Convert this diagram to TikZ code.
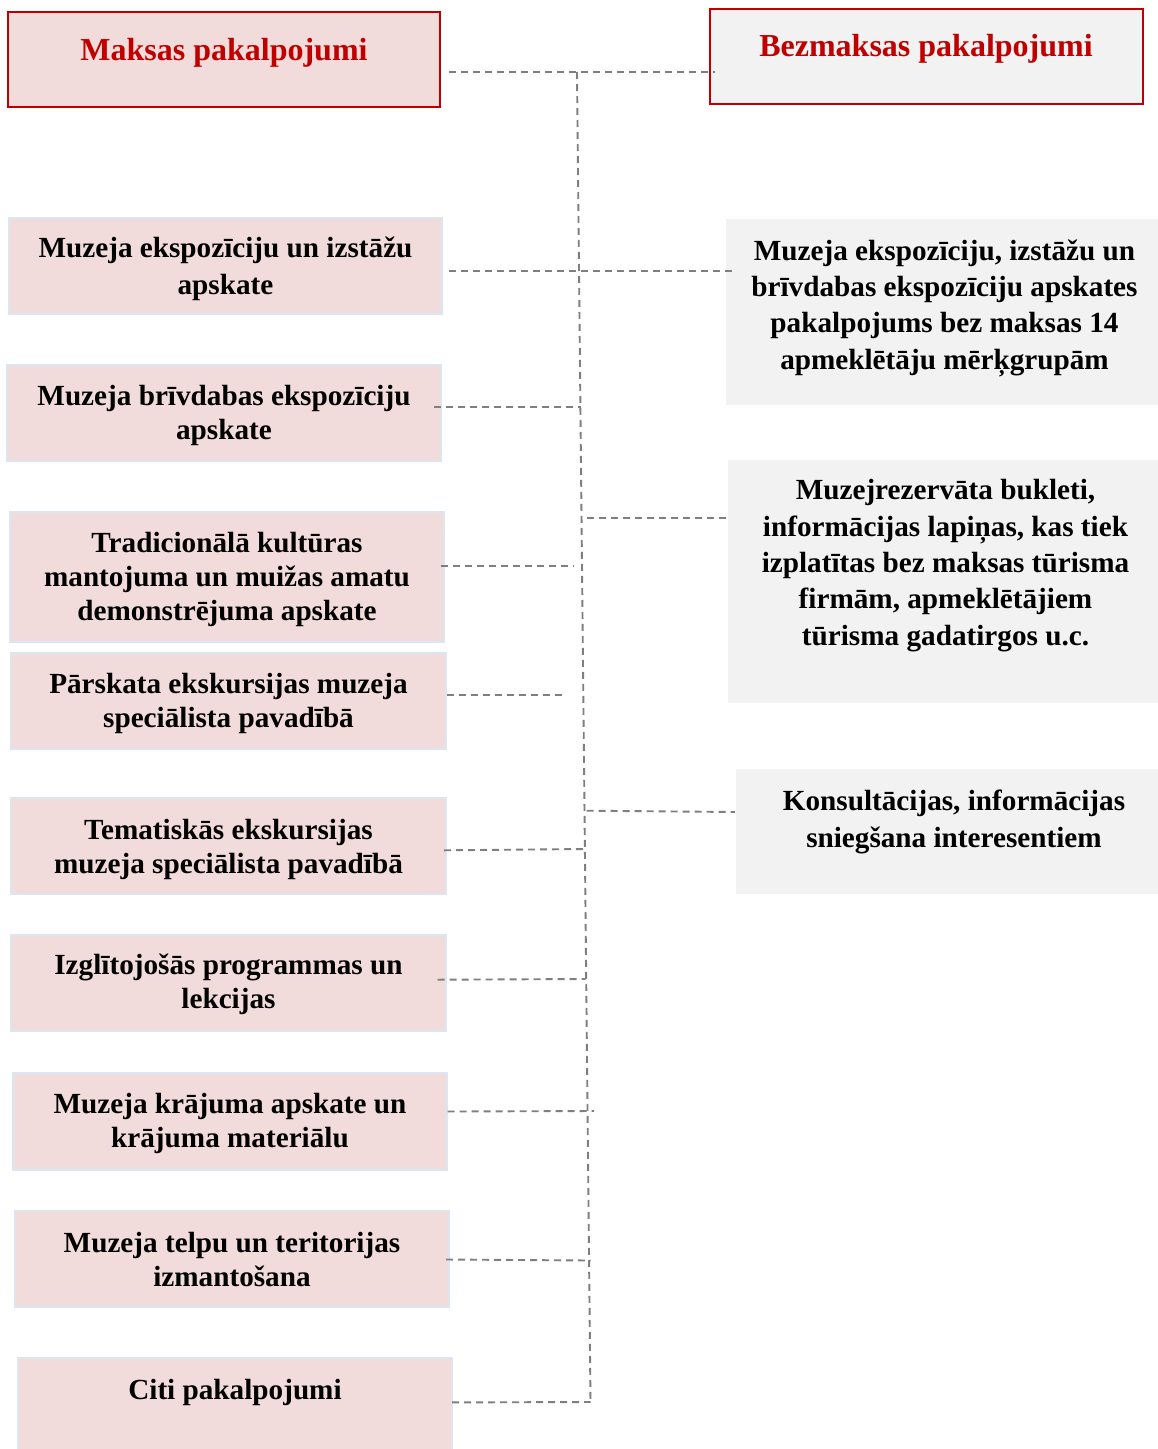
\documentclass[tikz,border=0pt]{standalone}
\usepackage{fontspec}
\setmainfont{Liberation Serif}
\usetikzlibrary{calc}
\definecolor{pinkfill}{HTML}{F2DCDB}
\definecolor{grayfill}{HTML}{F2F2F2}
\definecolor{hdrred}{HTML}{C00000}
\definecolor{bluebord}{HTML}{DCE6F2}
\definecolor{conngray}{HTML}{7F7F7F}
\begin{document}
\begin{tikzpicture}[x=1pt,y=-1pt,
  pinkbox/.style={draw=bluebord, line width=2pt, fill=pinkfill, inner sep=0pt},
  graybox/.style={fill=grayfill, inner sep=0pt},
  hdrbox/.style={draw=hdrred, line width=2.6pt, inner sep=0pt},
  ptxt/.style={font=\bfseries\fontsize{29.2}{34}\selectfont, align=center, inner sep=0pt},
  txt/.style={font=\bfseries\fontsize{29.2}{36.3}\selectfont, align=center, inner sep=0pt},
  hdrtxt/.style={font=\bfseries\fontsize{32}{38}\selectfont, text=hdrred, inner sep=0pt},
  conn/.style={draw=conngray, line width=1.9pt, dash pattern=on 7pt off 5pt}]
\useasboundingbox[fill=white] (0,0) rectangle (1158,1449);

% header boxes
\node[hdrbox, fill=pinkfill, minimum width=432pt, minimum height=95pt] (M) at (224,59.5) {};
\node[hdrtxt] (Mt) at (224,53) {Maksas pakalpojumi};
\node[hdrbox, fill=grayfill, minimum width=433pt, minimum height=95pt] (B) at (926.5,56.5) {};
\node[hdrtxt] (Bt) at (926,49) {Bezmaksas pakalpojumi};

% left boxes
\node[pinkbox, minimum width=433pt, minimum height=96pt] (L1) at (225.5,266) {};
\node[ptxt, font=\bfseries\fontsize{29.2}{37}\selectfont] (L1t) at ([yshift=-3pt]L1.center)
  {Muzeja ekspozīciju un izstāžu\\apskate};
\node[pinkbox, minimum width=434pt, minimum height=96pt] (L2) at (224,413) {};
\node[ptxt] (L2t) at ([yshift=-2pt]L2.center) {Muzeja brīvdabas ekspozīciju\\apskate};
\node[pinkbox, minimum width=434pt, minimum height=130pt] (L3) at (227,577) {};
\node[ptxt] (L3t) at ([yshift=-2pt]L3.center)
  {Tradicionālā kultūras\\mantojuma un muižas amatu\\demonstrējuma apskate};
\node[pinkbox, minimum width=435pt, minimum height=96pt] (L4) at (228.5,701) {};
\node[ptxt] (L4t) at ([yshift=-2pt]L4.center) {Pārskata ekskursijas muzeja\\speciālista pavadībā};
\node[pinkbox, minimum width=435pt, minimum height=96pt] (L5) at (228.5,846) {};
\node[ptxt] (L5t) at ([yshift=-3pt]L5.center) {Tematiskās ekskursijas\\muzeja speciālista pavadībā};
\node[pinkbox, minimum width=435pt, minimum height=96pt] (L6) at (228.5,983) {};
\node[ptxt] (L6t) at ([yshift=-1.5pt]L6.center) {Izglītojošās programmas un\\lekcijas};
\node[pinkbox, minimum width=434pt, minimum height=97pt] (L7) at (230,1121.5) {};
\node[ptxt] (L7t) at ([yshift=-2pt]L7.center) {Muzeja krājuma apskate un\\krājuma materiālu};
\node[pinkbox, minimum width=434pt, minimum height=96pt] (L8) at (232,1259) {};
\node[ptxt] (L8t) at ([yshift=-0.5pt]L8.center) {Muzeja telpu un teritorijas\\izmantošana};
\node[pinkbox, minimum width=434pt, minimum height=94pt] (L9) at (235,1405) {};
\node[ptxt] (L9t) at (235,1392) {Citi pakalpojumi};

% right boxes
\node[graybox, minimum width=434pt, minimum height=186pt] (R1) at (943,312) {};
\node[txt] (R1t) at (944.5,308)
  {Muzeja ekspozīciju, izstāžu un\\brīvdabas ekspozīciju apskates\\pakalpojums bez maksas 14\\apmeklētāju mērķgrupām};
\node[graybox, minimum width=432pt, minimum height=243pt] (R2) at (944,581.5) {};
\node[txt] (R2t) at (945.5,565.5)
  {Muzejrezervāta bukleti,\\informācijas lapiņas, kas tiek\\izplatītas bez maksas tūrisma\\firmām, apmeklētājiem\\tūrisma gadatirgos u.c.};
\node[graybox, minimum width=424pt, minimum height=125pt] (R3) at (948,831.5) {};
\node[txt, font=\bfseries\fontsize{29.2}{37}\selectfont] (R3t) at (954,822)
  {Konsultācijas, informācijas\\sniegšana interesentiem};

% trunk and junctions
\coordinate (tTop) at (577,72);
\coordinate (tBot) at (590.5,1402);
\coordinate (j2) at (581,407);
\coordinate (jR2) at (587,517.7);
\coordinate (j3) at (574,565.7);
\coordinate (e4) at (566.7,695);
\coordinate (jR3) at (586.7,810.7);
\coordinate (j5) at (585.7,849);
\coordinate (j6) at (585.7,979);
\coordinate (e7) at (594,1111);
\coordinate (j8) at (590.7,1260.5);

\draw[conn] (tTop) -- (tBot);
\draw[conn] ($(M.east)+(8,12.5)$) -- ($(B.west)+(6,15.5)$);
\draw[conn] ($(L1.east)+(6,5)$) -- ($(R1.west)+(7,-41)$);
\draw[conn] ($(L2.east)+(-8,-6)$) -- (j2);
\draw[conn] (jR2) -- ($(R2.west)+(-1,-63.8)$);
\draw[conn] ($(L3.east)+(-4,-11.3)$) -- (j3);
\draw[conn] ($(L4.east)+(0,-6)$) -- (e4);
\draw[conn] (jR3) -- ($(R3.west)+(-1,-19.5)$);
\draw[conn] ($(L5.east)+(-3,4.3)$) -- (j5);
\draw[conn] ($(L6.east)+(-9.3,-3.3)$) -- (j6);
\draw[conn] ($(L7.east)+(-0.3,-10)$) -- (e7);
\draw[conn] ($(L8.east)+(-4,0.5)$) -- (j8);
\draw[conn] ($(L9.east)+(-1,-2.6)$) -- (tBot);
\end{tikzpicture}
\end{document}
